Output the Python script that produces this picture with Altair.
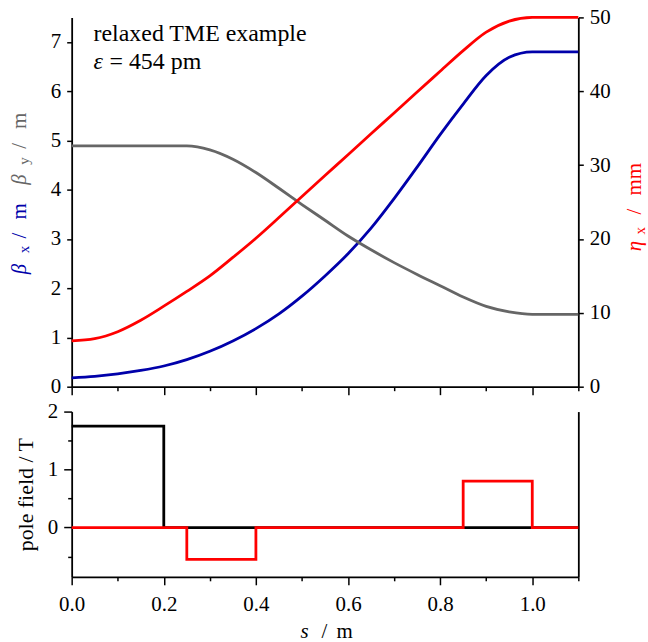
import altair as alt
import pandas as pd

# ---------------- data ----------------
s = [0.0, 0.05, 0.1, 0.15, 0.2, 0.25, 0.3, 0.35, 0.4, 0.45, 0.5, 0.55,
     0.6, 0.65, 0.7, 0.75, 0.8, 0.85, 0.9, 0.95, 1.0, 1.05, 1.1]
beta_x = [0.18, 0.21, 0.26, 0.33, 0.42, 0.55, 0.72, 0.93, 1.18, 1.48, 1.84, 2.25,
          2.70, 3.22, 3.82, 4.46, 5.12, 5.74, 6.32, 6.69, 6.80, 6.80, 6.80]
beta_y = [4.89, 4.89, 4.89, 4.89, 4.89, 4.89, 4.81, 4.62, 4.35, 4.03, 3.70, 3.38,
          3.06, 2.78, 2.52, 2.28, 2.05, 1.82, 1.63, 1.52, 1.47, 1.47, 1.47]
eta_x = [6.2, 6.5, 7.45, 9.0, 10.9, 12.9, 15.0, 17.5, 20.1, 22.9, 25.75, 28.6,
         31.4, 34.25, 37.05, 39.9, 42.7, 45.5, 48.0, 49.5, 50.0, 50.0, 50.0]

dipole_s = [0.0, 0.2, 1.1]
dipole_b = [1.75, 0.0, 0.0]
quad_s = [0.0, 0.25, 0.4, 0.85, 1.0, 1.1]
quad_b = [0.0, -0.55, 0.0, 0.8, 0.0, 0.0]

x_ticks = [0.0, 0.1, 0.2, 0.3, 0.4, 0.5, 0.6, 0.7, 0.8, 0.9, 1.0, 1.1]
beta_ticks = [0, 1, 2, 3, 4, 5, 6, 7]
eta_ticks = [0, 10, 20, 30, 40, 50]
field_ticks = [-0.5, 0.0, 0.5, 1.0, 1.5, 2.0]

FONT = "Liberation Serif, DejaVu Serif, serif"
BLUE = "#0000aa"
GRAY = "#666666"
RED = "#ff0000"

W, H1, H2 = 509, 371, 166

df = pd.DataFrame({"s": s, "beta_x": beta_x, "beta_y": beta_y, "eta_x": eta_x})
dip = pd.DataFrame({"s": dipole_s, "b": dipole_b})
quad = pd.DataFrame({"s": quad_s, "b": quad_b})

major_x = "round(datum.value*10) % 2 === 0"
xscale = alt.Scale(domain=[0, 1.1], nice=False, zero=False)
axis_font = dict(labelFont=FONT, labelFontSize=21, labelColor="black")

top_x = alt.X("s:Q", scale=xscale, axis=alt.Axis(
    values=x_ticks, labels=False, title=None, labelFlush=False,
    tickSize={"condition": {"test": major_x, "value": 8}, "value": 4}))

bot_x = alt.X("s:Q", scale=xscale, axis=alt.Axis(
    values=x_ticks, title=None, labelFlush=False, labelOverlap=False,
    labelExpr="round(datum.value*10) % 2 === 0 ? format(datum.value, '.1f') : ''",
    labelPadding=9, **axis_font,
    tickSize={"condition": {"test": major_x, "value": 8}, "value": 4}))

beta_scale = alt.Scale(domain=[0, 7.5], nice=False)
eta_scale = alt.Scale(domain=[0, 50], nice=False)
field_scale = alt.Scale(domain=[-0.85, 2.0], nice=False)


def label(text, x, y, color="black", size=21, angle=0, style="normal"):
    return alt.Chart(pd.DataFrame({"t": [text]})).mark_text(
        font=FONT, fontSize=size, fontStyle=style, color=color,
        angle=angle, align="left", baseline="alphabetic"
    ).encode(x=alt.value(x), y=alt.value(y), text=alt.Text("t:N"))


line_kw = dict(strokeWidth=2.8, interpolate="monotone")

blue = alt.Chart(df).mark_line(color=BLUE, **line_kw).encode(
    x=top_x,
    y=alt.Y("beta_x:Q", scale=beta_scale, axis=alt.Axis(
        values=beta_ticks, format="d", title=None, labelPadding=6, **axis_font)))
gray = alt.Chart(df).mark_line(color=GRAY, **line_kw).encode(
    x=top_x, y=alt.Y("beta_y:Q", scale=beta_scale))
red = alt.Chart(df).mark_line(color=RED, **line_kw).encode(
    x=top_x,
    y=alt.Y("eta_x:Q", scale=eta_scale, axis=alt.Axis(
        orient="right", values=eta_ticks, format="d", title=None,
        labelPadding=6, **axis_font)))

left_layer = alt.layer(blue, gray)

texts_top = [
    label("relaxed TME example", 22, 24, size=24),
    label("ε", 22, 52, size=24, style="italic"),
    label("= 454 pm", 38, 52, size=24),
    # left axis title (beta_x blue, beta_y gray)
    label("β", -46, 258, BLUE, 21, 270, "italic"),
    label("x", -43, 237, BLUE, 15, 270),
    label("/", -46, 222, BLUE, 21, 270),
    label("m", -46, 203, BLUE, 21, 270),
    label("β", -46, 168, GRAY, 21, 270, "italic"),
    label("y", -43, 148, GRAY, 15, 270),
    label("/", -46, 132, GRAY, 21, 270),
    label("m", -46, 112, GRAY, 21, 270),
    # right axis title (eta_x)
    label("η", 572, 235, RED, 21, 270, "italic"),
    label("x", 576, 218, RED, 15, 270),
    label("/", 572, 198, RED, 21, 270),
    label("mm", 572, 179, RED, 21, 270),
]

top = alt.layer(left_layer, red, *texts_top).resolve_scale(y="independent").properties(
    width=W, height=H1)

black_step = alt.Chart(dip).mark_line(color="black", strokeWidth=2.8,
                                      interpolate="step-after").encode(
    x=bot_x,
    y=alt.Y("b:Q", scale=field_scale, axis=alt.Axis(
        values=field_ticks, title="pole field  /  T", labelPadding=6, **axis_font,
        labelExpr="datum.value % 1 === 0 ? format(datum.value, 'd') : ''",
        tickSize={"condition": {"test": "datum.value % 1 === 0", "value": 8}, "value": 4},
        titleFont=FONT, titleFontSize=22, titleFontWeight="normal",
        titleColor="black", titlePadding=10)))
red_step = alt.Chart(quad).mark_line(color=RED, strokeWidth=2.8,
                                     interpolate="step-after").encode(
    x=bot_x,
    y=alt.Y("b:Q", scale=field_scale, axis=alt.Axis(
        orient="right", ticks=False, labels=False, title=None)))

texts_bot = [
    label("s", 230, 227, style="italic"),
    label("/", 251, 227),
    label("m", 266, 227),
]

bottom = alt.layer(black_step, red_step, *texts_bot).resolve_scale(
    y="independent").properties(width=W, height=H2)

chart = alt.vconcat(top, bottom, spacing=25, bounds="flush").properties(
    padding={"left": 9, "top": 5, "right": 0, "bottom": 0}
).configure(font=FONT).configure_text(font=FONT).configure_view(
    stroke=None
).configure_axis(
    grid=False, labelFont=FONT, titleFont=FONT, labelFontSize=21, labelColor="black",
    domainColor="black", tickColor="black", domainWidth=1.8, tickWidth=1.5,
)

chart.save("out.html", embed_options={"renderer": "svg", "actions": False})
